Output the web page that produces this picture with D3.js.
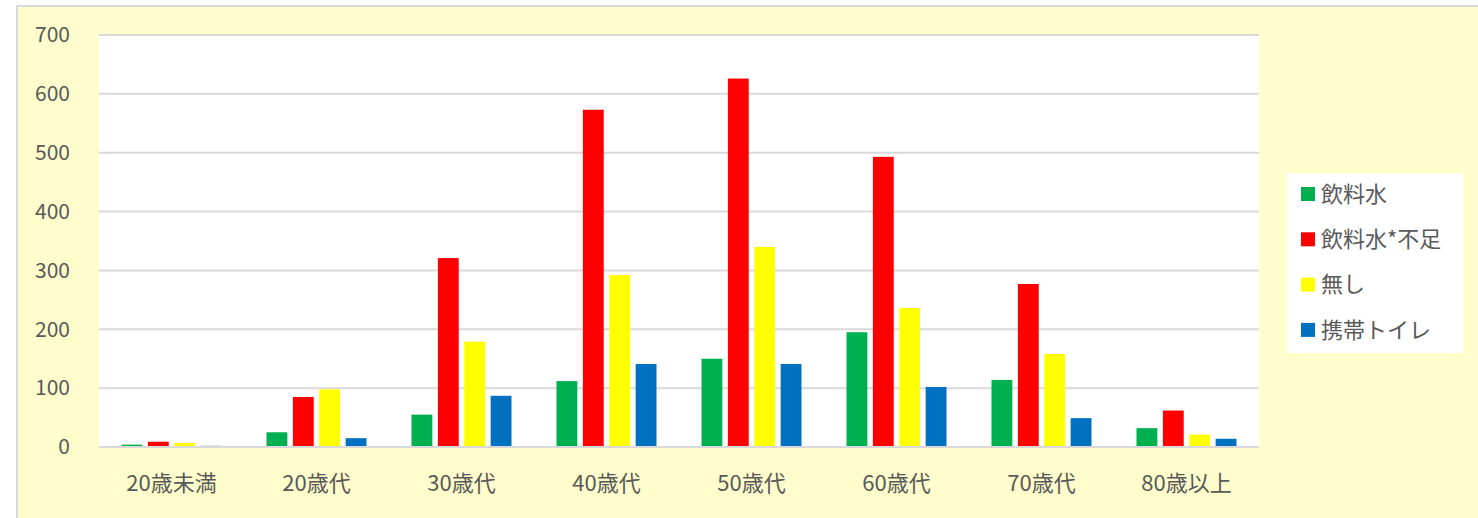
<!DOCTYPE html>
<html><head><meta charset="utf-8">
<script src="https://cdn.jsdelivr.net/npm/d3@7"></script>
<style>
html,body{margin:0;padding:0;background:#fff;}
svg{display:block;}
text{font-family:"Noto Sans CJK JP","Noto Sans",sans-serif;fill:#595959;}
</style></head>
<body>
<svg id="c" width="1478" height="518"></svg>
<script>
const categories = ["20歳未満","20歳代","30歳代","40歳代","50歳代","60歳代","70歳代","80歳以上"];
const seriesNames = ["飲料水","飲料水*不足","無し","携帯トイレ"];
const seriesColors = ["#00B050","#FF0000","#FFFF00","#0070C0"];
const water      = [4, 25, 55, 112, 150, 195, 114, 32];
const waterShort = [9, 85, 321, 573, 626, 493, 277, 62];
const none       = [7, 98, 179, 292, 340, 236, 158, 21];
const toilet     = [2, 15, 87, 141, 141, 102, 49, 14];
const yTicks = [0,100,200,300,400,500,600,700];

const seriesValues = [water, waterShort, none, toilet];
const svg = d3.select("#c");

// chart background + border
svg.append("rect").attr("x",17).attr("y",6).attr("width",1470).attr("height",520)
  .attr("fill","#FFFDCC").attr("stroke","#D9D9D9").attr("stroke-width",2);

const plot = {left:99, right:1259, top:35, bottom:447};
svg.append("rect").attr("x",plot.left).attr("y",plot.top)
  .attr("width",plot.right-plot.left).attr("height",plot.bottom-plot.top).attr("fill","#fff");

const y = d3.scaleLinear().domain([0,700]).range([plot.bottom, plot.top]);
const x0 = d3.scaleBand().domain(categories).range([plot.left, plot.right]).paddingInner(0).paddingOuter(0);
const groupW = 100;
const x1 = d3.scaleBand().domain(seriesNames).range([0, groupW]).paddingInner(0.21).paddingOuter(0);

// gridlines
svg.append("g").selectAll("line").data(yTicks).join("line")
  .attr("x1",plot.left).attr("x2",plot.right)
  .attr("y1",d=>y(d)).attr("y2",d=>y(d))
  .attr("stroke","#D9D9D9").attr("stroke-width",2);

// y tick labels
svg.append("g").selectAll("text").data(yTicks).join("text")
  .attr("x",70).attr("y",d=>y(d)).attr("dy","0.35em")
  .attr("text-anchor","end").attr("font-size",21).text(d=>d);

// bars
categories.forEach((cat,i)=>{
  const gx = x0(cat) + (x0.bandwidth()-groupW)/2;
  seriesNames.forEach((s,j)=>{
    const v = seriesValues[j][i];
    svg.append("rect")
      .attr("x", gx + x1(s)).attr("width", x1.bandwidth())
      .attr("y", y(v)).attr("height", y(0)-y(v))
      .attr("fill", seriesColors[j]);
  });
});

// baseline
svg.append("line").attr("x1",plot.left).attr("x2",plot.right)
  .attr("y1",y(0)).attr("y2",y(0)).attr("stroke","#D9D9D9").attr("stroke-width",2);

// x labels
svg.append("g").selectAll("text").data(categories).join("text")
  .attr("x",d=>x0(d)+x0.bandwidth()/2).attr("y",483).attr("dy","0.35em")
  .attr("text-anchor","middle").attr("font-size",22).text(d=>d);

// legend
svg.append("rect").attr("x",1287).attr("y",173).attr("width",176).attr("height",180).attr("fill","#fff");
const lg = svg.append("g").selectAll("g").data(seriesNames).join("g")
  .attr("transform",(d,i)=>`translate(1301,${194 + i*45.3})`);
lg.append("rect").attr("x",0).attr("y",-7).attr("width",14).attr("height",14)
  .attr("fill",(d,i)=>seriesColors[i]);
lg.append("text").attr("x",20).attr("y",0).attr("dy","0.35em").attr("font-size",22).text(d=>d);
</script>
</body></html>
